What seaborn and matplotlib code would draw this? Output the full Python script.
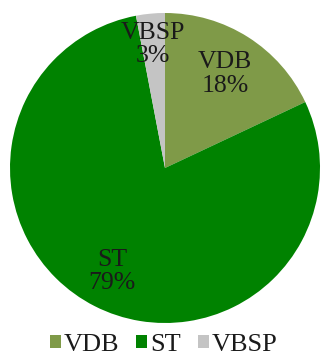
import numpy as np
import matplotlib
matplotlib.use("Agg")
import matplotlib.pyplot as plt
from matplotlib.patches import Patch
import seaborn as sns

categories = ["VDB", "ST", "VBSP"]
shares = [18, 79, 3]
colors = ["#7f9a48", "#008200", "#c4c4c4"]
label_radius = [0.72, 0.75, 0.80]

sns.set_theme(style="white")
plt.rcParams["font.family"] = ["Liberation Serif", "DejaVu Serif"]

fig = plt.figure(figsize=(3.21, 3.62), dpi=100)
ax = fig.add_axes([10 / 321, 39 / 362, 310 / 321, 310 / 362])

wedges, _ = ax.pie(shares, colors=colors, startangle=90, counterclock=False,
                   wedgeprops=dict(linewidth=0))
ax.set_xlim(-1, 1)
ax.set_ylim(-1, 1)
ax.set_aspect("equal")

for w, name, val, r in zip(wedges, categories, shares, label_radius):
    mid = np.deg2rad((w.theta1 + w.theta2) / 2)
    ax.text(r * np.cos(mid), r * np.sin(mid), f"{name}\n{val}%",
            ha="center", va="center", fontsize=18.5, color="#1a1a1a",
            linespacing=1.1)

handles = [Patch(facecolor=c, edgecolor="none") for c in colors]
fig.legend(handles, categories, loc="center", bbox_to_anchor=(0.51, 0.047),
           ncol=3, frameon=False, fontsize=19, handlelength=0.42,
           handleheight=0.42, handletextpad=0.1, columnspacing=0.65,
           labelcolor="#1a1a1a")

fig.savefig("out.png", dpi=100)
